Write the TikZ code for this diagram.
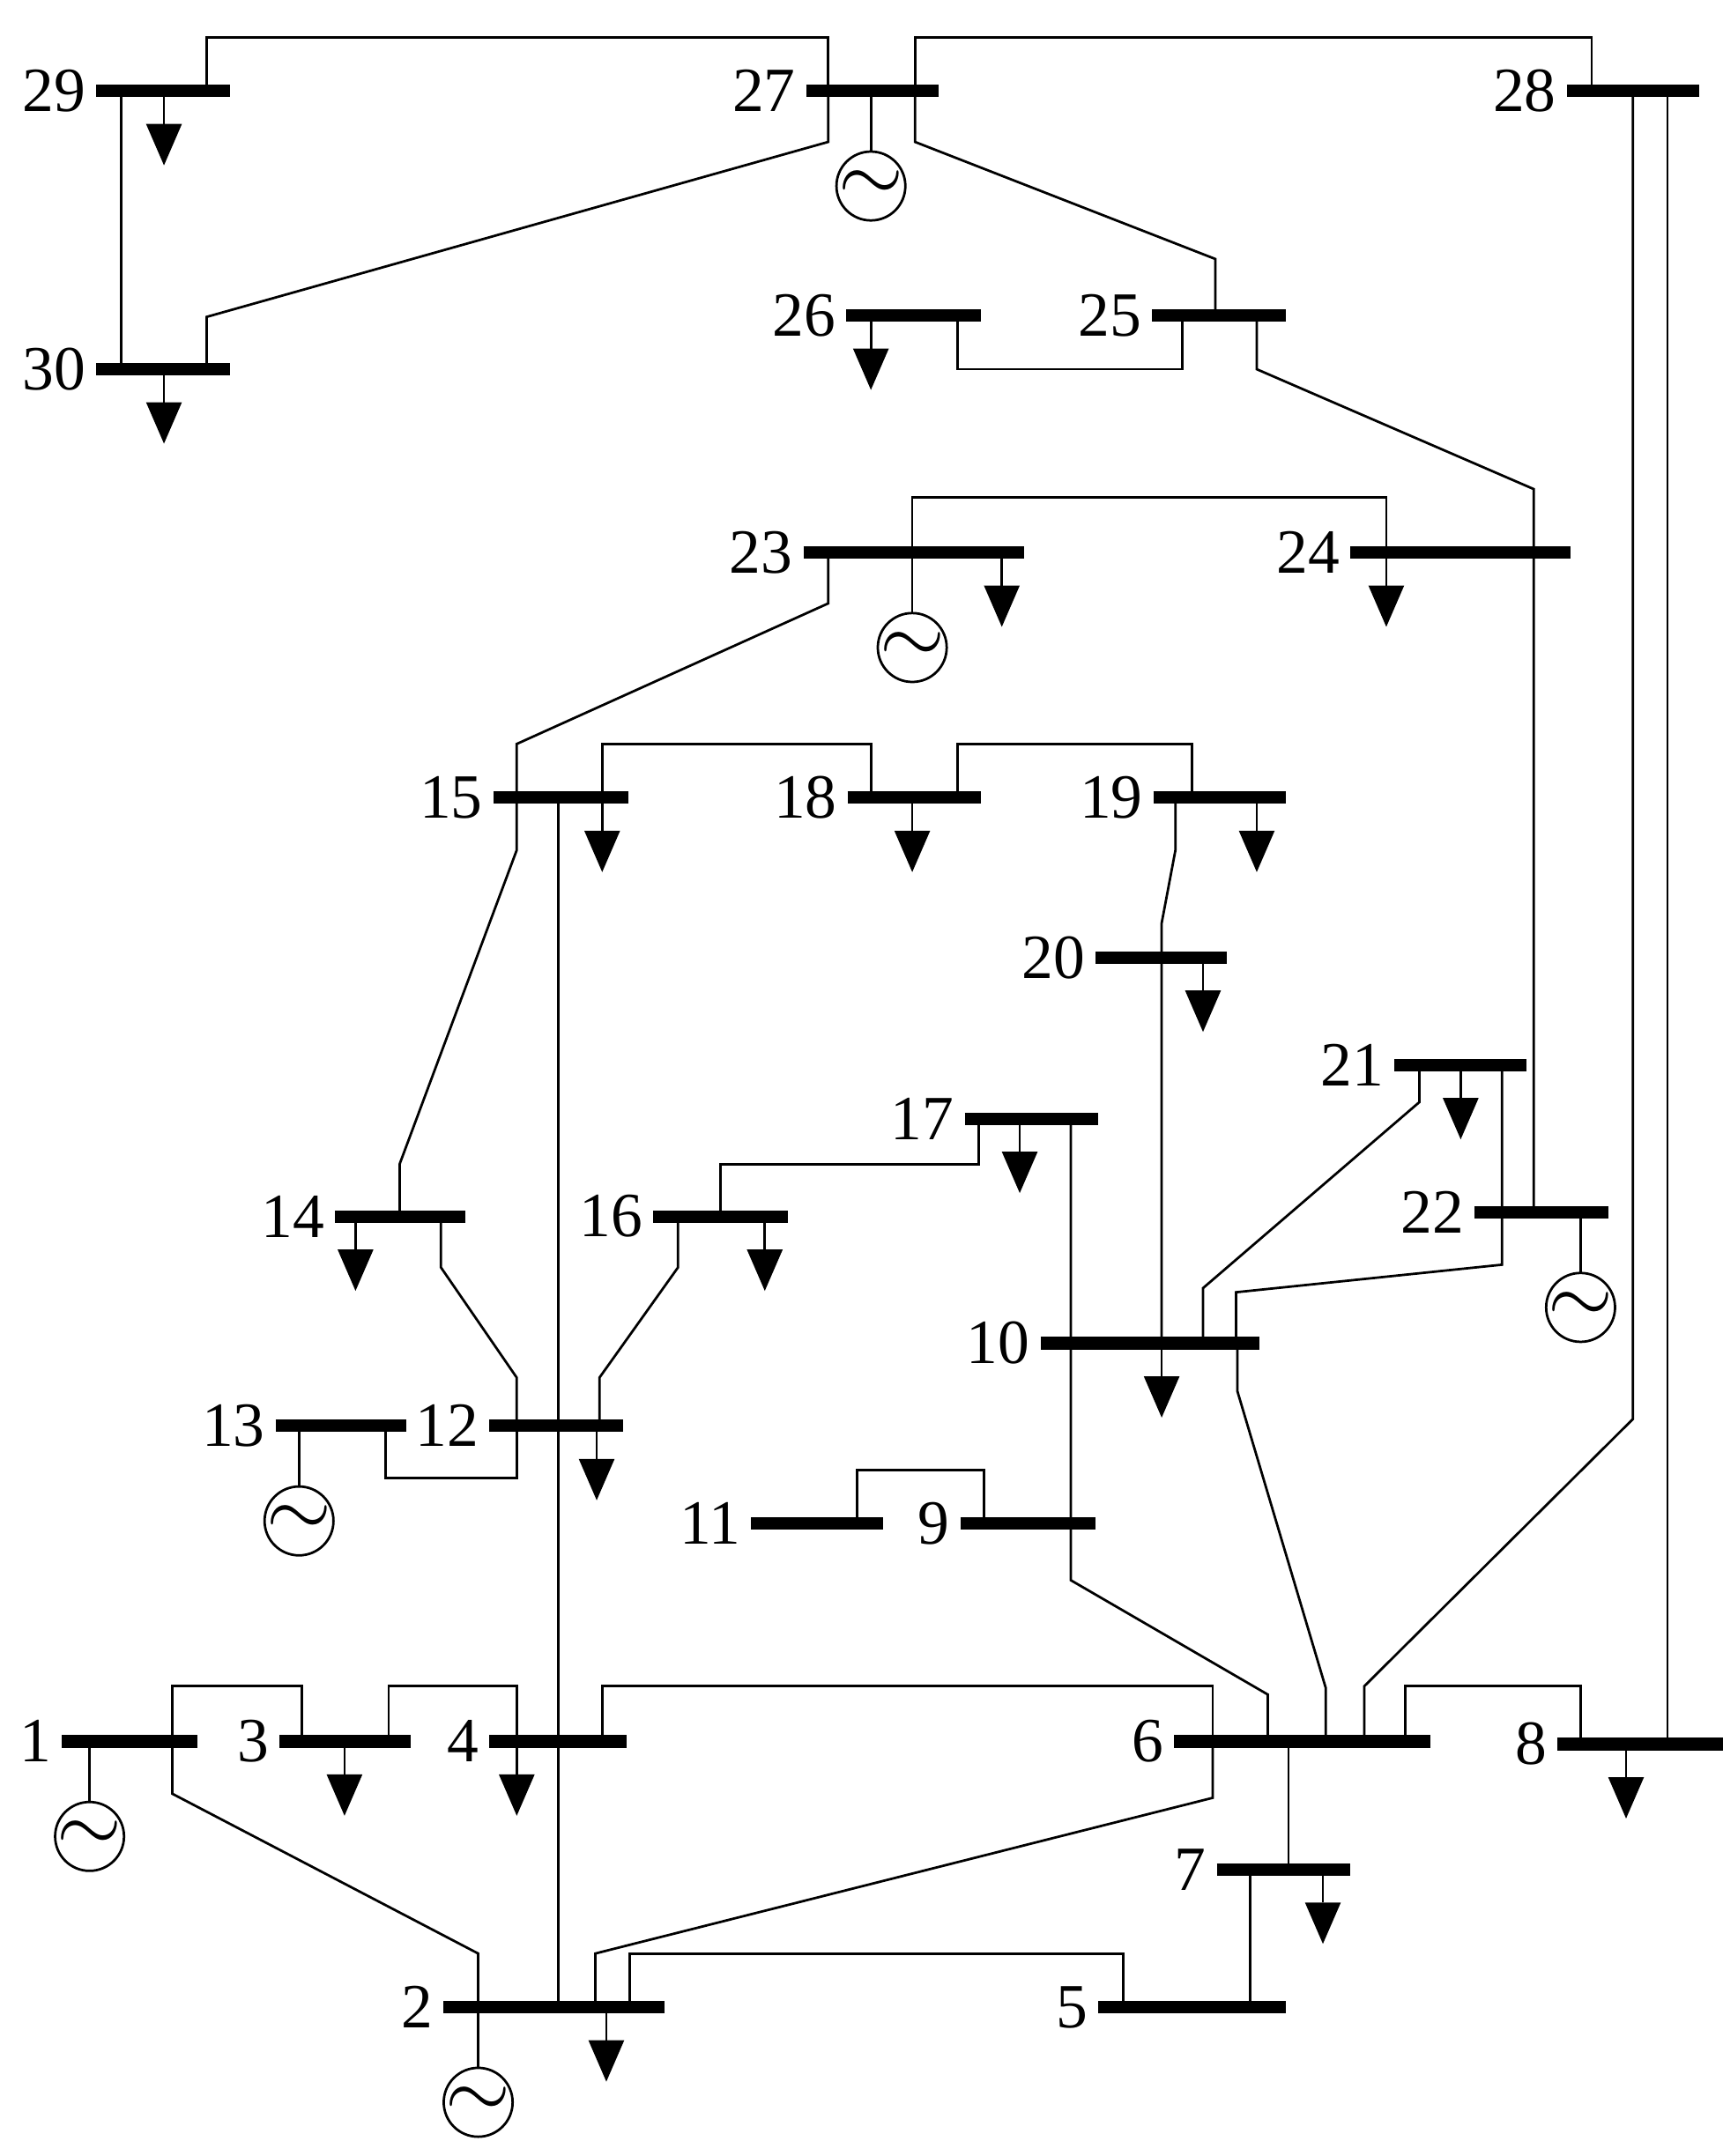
\documentclass[tikz,border=0pt]{standalone}
\usepackage{fontspec}
\setmainfont{Liberation Serif}
\tikzset{bus/.style={line width=2.6pt}, branch/.style={line width=0.5pt},
  busno/.style={anchor=east, inner sep=2pt, font=\fontsize{13}{15}\selectfont}}
\newcommand{\busbar}[5]{\draw[bus] (#2,#4) -- (#3,#4);
  \node[busno] (b#1) at (#2,#4) {#5};}
\newcommand{\loadat}[2]{\draw[branch] (#1,#2) -- (#1,#2+24);
  \fill (#1-13,#2+24) -- (#1+13,#2+24) -- (#1,#2+54) -- cycle;}
\newcommand{\genat}[2]{\draw[branch] (#1,#2) -- (#1,#2+44);
  \draw[branch] (#1,#2+69) circle (25);
  \node at (#1,#2+69) {\fontsize{16}{16}\selectfont$\sim$};}
\begin{document}
\begin{tikzpicture}[x=0.01cm,y=-0.01cm]
\useasboundingbox (0,0) rectangle (1250,1565);
% buses
\busbar{1}{45}{143}{1264}{1}
\busbar{3}{203}{298}{1264}{3}
\busbar{4}{355}{455}{1264}{4}
\busbar{6}{852}{1038}{1264}{6}
\busbar{8}{1130}{1253}{1266}{8}
\busbar{2}{322}{482}{1457}{2}
\busbar{5}{797}{933}{1457}{5}
\busbar{7}{883}{980}{1357}{7}
\busbar{13}{200}{295}{1035}{13}
\busbar{12}{355}{452}{1035}{12}
\busbar{11}{545}{641}{1106}{11}
\busbar{9}{697}{795}{1106}{9}
\busbar{10}{755}{914}{975}{10}
\busbar{14}{243}{338}{883}{14}
\busbar{16}{474}{572}{883}{16}
\busbar{17}{700}{797}{812}{17}
\busbar{21}{1012}{1108}{773}{21}
\busbar{22}{1070}{1167}{880}{22}
\busbar{20}{795}{890}{695}{20}
\busbar{15}{358}{456}{579}{15}
\busbar{18}{615}{712}{579}{18}
\busbar{19}{837}{933}{579}{19}
\busbar{23}{583}{743}{401}{23}
\busbar{24}{980}{1140}{401}{24}
\busbar{26}{614}{712}{229}{26}
\busbar{25}{836}{933}{229}{25}
\busbar{29}{70}{167}{66}{29}
\busbar{27}{585}{681}{66}{27}
\busbar{28}{1137}{1233}{66}{28}
\busbar{30}{70}{167}{268}{30}
% loads
\foreach \x/\y in {250/1264, 375/1264, 440/1457, 960/1357, 1180/1266, 433/1035,
  258/883, 555/883, 740/812, 843/975, 1060/773, 873/695, 437/579, 662/579,
  912/579, 727/401, 1006/401, 632/229, 119/66, 119/268}
  {\loadat{\x}{\y}}
% generators
\foreach \x/\y in {65/1264, 347/1457, 217/1035, 1147/880, 662/401, 632/66}
  {\genat{\x}{\y}}
% branches
\begin{scope}[branch]
\draw (125,1264) -- (125,1302) -- (347,1418) -- (347,1457);
\draw (125,1264) -- (125,1224) -- (219,1224) -- (219,1264);
\draw (282,1264) -- (282,1224) -- (375,1224) -- (375,1264);
\draw (405,1457) -- (405,579);
\draw (432,1457) -- (432,1418) -- (880,1305) -- (880,1264);
\draw (457,1457) -- (457,1418) -- (815,1418) -- (815,1457);
\draw (437,1264) -- (437,1224) -- (880,1224) -- (880,1264);
\draw (907,1457) -- (907,1357);
\draw (935,1264) -- (935,1357);
\draw (1020,1264) -- (1020,1224) -- (1147,1224) -- (1147,1266);
\draw (990,1264) -- (990,1224) -- (1185,1030) -- (1185,66);
\draw (1210,1266) -- (1210,66);
\draw (920,1264) -- (920,1230) -- (777,1147) -- (777,812);
\draw (962,1264) -- (962,1225) -- (898,1010) -- (898,975);
\draw (622,1106) -- (622,1067) -- (714,1067) -- (714,1106);
\draw (280,1035) -- (280,1073) -- (375,1073) -- (375,1035);
\draw (375,1035) -- (375,1000) -- (320,920) -- (320,883);
\draw (435,1035) -- (435,1000) -- (492,920) -- (492,883);
\draw (290,883) -- (290,845) -- (375,617) -- (375,579);
\draw (375,579) -- (375,540) -- (601,438) -- (601,401);
\draw (437,579) -- (437,540) -- (632,540) -- (632,579);
\draw (695,579) -- (695,540) -- (865,540) -- (865,579);
\draw (853,579) -- (853,617) -- (843,670) -- (843,975);
\draw (523,883) -- (523,845) -- (710,845) -- (710,812);
\draw (873,975) -- (873,935) -- (1030,800) -- (1030,773);
\draw (897,975) -- (897,938) -- (1090,918) -- (1090,773);
\draw (1113,880) -- (1113,355) -- (912,268) -- (912,229);
\draw (662,401) -- (662,361) -- (1006,361) -- (1006,401);
\draw (695,229) -- (695,268) -- (858,268) -- (858,229);
\draw (882,229) -- (882,188) -- (664,103) -- (664,66);
\draw (664,66) -- (664,27) -- (1155,27) -- (1155,66);
\draw (601,66) -- (601,27) -- (150,27) -- (150,66);
\draw (601,66) -- (601,103) -- (150,230) -- (150,268);
\draw (88,66) -- (88,268);
\end{scope}
\end{tikzpicture}
\end{document}
